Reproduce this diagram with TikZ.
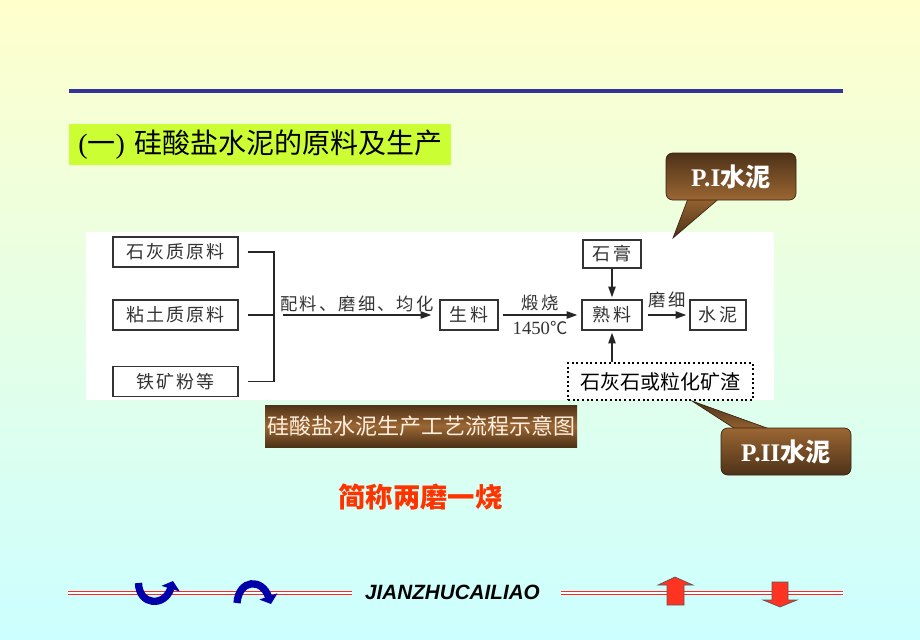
\documentclass[tikz,border=0pt]{standalone}
\usepackage{fontspec}
\setmainfont{Liberation Serif}
\setsansfont{Liberation Sans}
\newfontfamily\cjk{Noto Sans CJK SC}
\newfontfamily\cjkwide[LetterSpace=12]{Noto Sans CJK SC}
\usetikzlibrary{arrows.meta,positioning,calc}

\definecolor{bgtop}{RGB}{255,255,204}
\definecolor{bgbot}{RGB}{204,255,255}
\definecolor{rulebl}{RGB}{51,51,153}
\definecolor{limegr}{RGB}{204,255,51}
\definecolor{brdark}{RGB}{77,50,24}
\definecolor{brlight}{RGB}{155,102,51}
\definecolor{boxgr}{RGB}{51,51,51}
\definecolor{redtx}{RGB}{255,51,0}
\definecolor{arblue}{RGB}{0,0,170}
\definecolor{arred}{RGB}{255,51,34}
\definecolor{capwh}{RGB}{255,240,225}

\begin{document}
\begin{tikzpicture}[x=0.75pt, y=-0.75pt, >={Triangle[length=8pt,width=5.5pt]},
    stepbox/.style={draw=boxgr, line width=1.1pt, rectangle, minimum height=22.5pt, inner sep=0pt, text=boxgr, font=\fontsize{13.5}{15}\selectfont\cjkwide},
    flow/.style={draw=black!85, line width=1.1pt},
    flowlabel/.style={text=boxgr, font=\fontsize{13}{15}\selectfont\cjkwide, inner sep=1pt},
    bubble/.style={draw=brdark!70!black, line width=0.5pt, rounded corners=5pt, minimum width=97.5pt, minimum height=35.25pt, inner sep=0pt, text=white, font=\fontsize{19}{22}\selectfont\bfseries},
    redline/.style={draw=red!85!white, line width=0.9pt, double=white, double distance=0.8pt}]
    % Background and frame
    \shade[top color=bgtop, bottom color=bgbot] (0,0) rectangle (920,639);
    \useasboundingbox (0,0) rectangle (920,639);
    \draw[rulebl, line width=3pt] (69,91) -- (843,91);
    % Title
    \node[fill=limegr, anchor=west, minimum height=30.75pt, text width=280pt, inner xsep=3.25pt, align=left, font=\fontsize{21}{24}\selectfont] (title) at (69,144.5) {\,({\cjk 一}) {\cjk 硅酸盐水泥的原料及生产}};
    % Flow chart panel
    \node[fill=white, minimum width=516pt, minimum height=126pt, inner sep=0pt] (panel) at (430,316) {};
    % Raw materials
    \node[stepbox, minimum width=93.75pt] (lime) at (175.5,252) {石灰质原料};
    \node[stepbox, minimum width=93.75pt] (clay) at (175.5,315) {粘土质原料};
    \node[stepbox, minimum width=93.75pt] (iron) at (175.5,381.5) {铁矿粉等};
    \coordinate (join) at (274,315);
    % Products
    \node[stepbox, minimum width=43.5pt] (raw) at (469,315) {生料};
    \node[stepbox, minimum width=45pt] (clinker) at (612,315) {熟料};
    \node[stepbox, minimum width=43.5pt, minimum height=21pt] (gypsum) at (612,254) {石膏};
    \node[stepbox, minimum width=42pt] (cement) at (718,315) {水泥};
    \node[draw=black, dotted, line width=1.5pt, minimum width=138.75pt, minimum height=27.75pt, inner sep=0pt, font=\fontsize{15}{17}\selectfont\cjk] (slag) at (660.5,381.5) {石灰石或粒化矿渣};
    % Connecting Arrows
    \draw[flow] ([xshift=6.75pt]lime.east) -| (join);
    \draw[flow] ([xshift=6.75pt]iron.east) -| (join);
    \draw[flow] ([xshift=6.75pt]clay.east) -- (join);
    \draw[flow, ->] ([xshift=6.75pt]join) -- node[flowlabel, above=1pt] {配料、磨细、均化} ([xshift=-6pt]raw.west);
    \draw[flow, ->] ([xshift=3pt]raw.east) -- node[flowlabel, above=1.5pt] {煅烧} node[flowlabel, below=3pt] {{\rmfamily\fontsize{14}{15}\selectfont 1450}℃} ([xshift=-3pt]clinker.west);
    \draw[flow, ->] (gypsum) -- ([yshift=1.5pt]clinker.north);
    \draw[flow, ->] (slag.north -| clinker) -- ([yshift=-1.5pt]clinker.south);
    \draw[flow, ->] ([xshift=3.75pt]clinker.east) -- node[flowlabel, above=4pt] {磨细} ([xshift=-2.25pt]cement.west);
    % Caption and motto
    \node[top color=brdark, bottom color=brdark, middle color=brlight, minimum width=234pt, minimum height=31.5pt, inner sep=0pt, text=capwh, font=\fontsize{16.5}{19}\selectfont\cjk] (caption) at (421,426) {硅酸盐水泥生产工艺流程示意图};
    \node[text=redtx, font=\fontsize{20.5}{24}\selectfont\cjk\bfseries] (motto) at (420.5,497) {简称两磨一烧};
    % Callouts
    \coordinate (pitip) at (673,238);
    \shade[top color=brlight, bottom color=brdark, draw=brdark!70!black, line width=0.5pt] (689,196) -- (pitip) -- (722,196) -- cycle;
    \node[bubble, top color=brdark, bottom color=brlight] (pione) at (731,176.5) {P.I\cjk 水泥};
    \coordinate (piitip) at (692,401);
    \shade[top color=brdark, bottom color=brlight, draw=brdark!70!black, line width=0.5pt] (740,432) -- (piitip) -- (778,432) -- cycle;
    \node[bubble, top color=brlight, bottom color=brdark] (pitwo) at (786,451.5) {P.II\cjk 水泥};
    % Footer
    \node[font=\fontsize{15.5}{17}\selectfont\sffamily\bfseries\itshape] (brand) at (452.5,592) {JIANZHUCAILIAO};
    \draw[redline] (68,593) -- (352,593);
    \draw[redline] (561,593) -- (843,593);
    \draw[arblue, line width=5.5pt, -{Triangle[length=6pt,width=14pt]}] (138.5,583) .. controls (139,606) and (165,607) .. (173,581);
    \draw[arblue, line width=5.5pt, -{Triangle[length=6pt,width=14pt]}] (237,603) .. controls (239,579) and (262,578) .. (271,604);
    \draw[fill=arred, draw=gray!70!black, line width=0.5pt] (675,577) -- (693,585) -- (684,585) -- (684,605) -- (667,605) -- (667,585) -- (658,585) -- cycle;
    \draw[fill=arred, draw=gray!70!black, line width=0.5pt] (772,582) -- (788,582) -- (788,600) -- (797,600) -- (780,607) -- (763,600) -- (772,600) -- cycle;
\end{tikzpicture}
\end{document}
